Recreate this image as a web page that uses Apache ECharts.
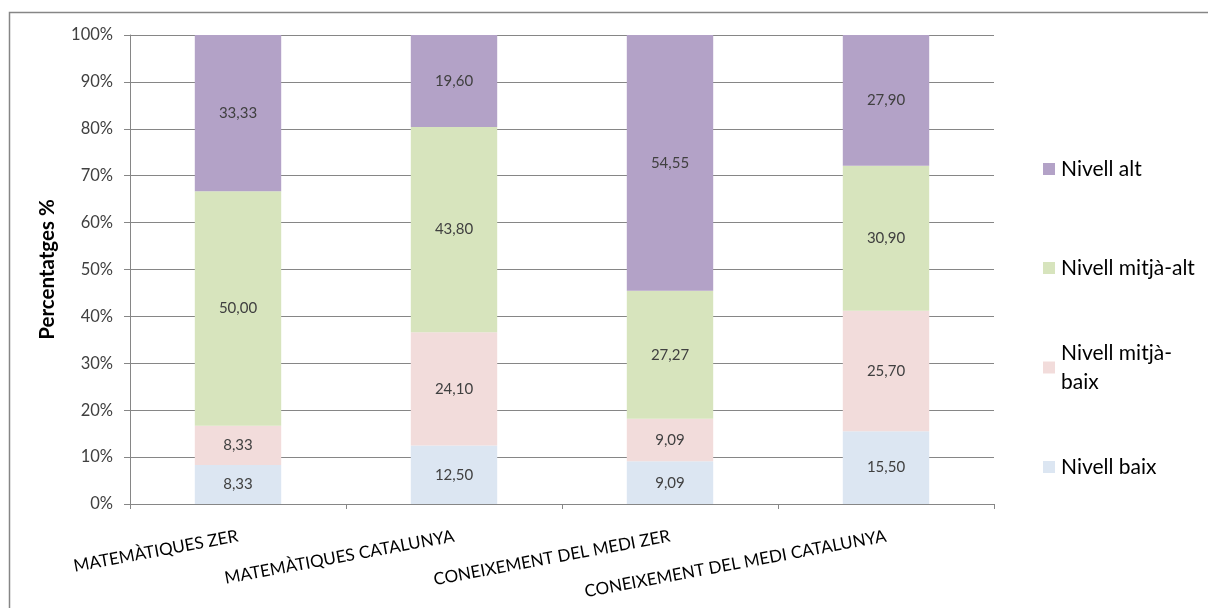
<!DOCTYPE html>
<html>
<head>
<meta charset="utf-8">
<script src="https://cdn.jsdelivr.net/npm/echarts@6/dist/echarts.min.js"></script>
<style>
html,body{margin:0;padding:0;background:#fff;}
#chart{width:1208px;height:608px;}
</style>
</head>
<body>
<div id="chart"></div>
<script>
const categories = ['MATEMÀTIQUES ZER', 'MATEMÀTIQUES CATALUNYA', 'CONEIXEMENT DEL MEDI ZER', 'CONEIXEMENT DEL MEDI CATALUNYA'];
const nivellBaix = [8.33, 12.50, 9.09, 15.50];
const nivellMitjaBaix = [8.33, 24.10, 9.09, 25.70];
const nivellMitjaAlt = [50.00, 43.80, 27.27, 30.90];
const nivellAlt = [33.33, 19.60, 54.55, 27.90];
const seriesNames = ['Nivell baix', 'Nivell mitjà-baix', 'Nivell mitjà-alt', 'Nivell alt'];
const yTicks = [0, 10, 20, 30, 40, 50, 60, 70, 80, 90, 100];

const FONT = 'Lato, "Open Sans", sans-serif';
const colors = ['#dce6f2', '#f2dcdb', '#d7e4bd', '#b3a2c7'];
const seriesData = [nivellBaix, nivellMitjaBaix, nivellMitjaAlt, nivellAlt];

const chart = echarts.init(document.getElementById('chart'), null, {renderer: 'canvas'});

function legendItem(name, top, multi) {
  return {
    data: [name],
    orient: 'vertical',
    left: 1043,
    top: top,
    padding: 0,
    itemWidth: 12,
    itemHeight: 12,
    icon: 'rect',
    formatter: n => n === 'Nivell mitjà-baix' ? 'Nivell mitjà-\nbaix' : n,
    textStyle: {
      fontFamily: FONT, fontSize: 21, color: '#000',
      lineHeight: multi ? 29 : 24,
      padding: multi ? [29, 0, 0, 1] : [0, 0, 0, 1]
    },
    selectedMode: false
  };
}

chart.setOption({
  animation: false,
  backgroundColor: '#fff',
  color: colors,
  graphic: [{
    type: 'rect',
    shape: {x: 9.5, y: 12.5, width: 1260, height: 700},
    style: {fill: 'none', stroke: '#868686', lineWidth: 1.5},
    silent: true
  }],
  legend: [
    legendItem('Nivell alt', 157, false),
    legendItem('Nivell mitjà-alt', 256, false),
    legendItem('Nivell mitjà-baix', 324, true),
    legendItem('Nivell baix', 455, false)
  ],
  grid: {left: 130, right: 214, top: 35, bottom: 104},
  xAxis: {
    type: 'category',
    data: categories,
    axisLine: {lineStyle: {color: '#868686', width: 1}},
    axisTick: {show: true, length: 5, lineStyle: {color: '#868686'}},
    axisLabel: {
      rotate: 10.5, margin: 32, interval: 0,
      fontFamily: FONT, fontSize: 17, color: '#000'
    }
  },
  yAxis: {
    type: 'value',
    min: 0, max: 100, interval: 10,
    name: 'Percentatges %',
    nameLocation: 'middle',
    nameGap: 72,
    nameTextStyle: {fontFamily: FONT, fontSize: 20.5, fontWeight: 'bold', color: '#000'},
    axisLine: {show: true, lineStyle: {color: '#868686', width: 1}},
    axisTick: {show: true, length: 6, lineStyle: {color: '#868686'}},
    axisLabel: {
      margin: 17,
      fontFamily: FONT, fontSize: 16.5, color: '#404040',
      formatter: v => yTicks.includes(v) ? v + '%' : ''
    },
    splitLine: {show: true, lineStyle: {color: '#868686', width: 1}}
  },
  series: seriesNames.map((name, i) => ({
    name: name,
    type: 'bar',
    stack: 'total',
    barWidth: '40%',
    data: seriesData[i],
    itemStyle: {color: colors[i]},
    label: {
      show: true,
      position: 'inside',
      fontFamily: FONT,
      fontSize: 15,
      color: '#404040',
      formatter: p => p.value.toFixed(2).replace('.', ',')
    }
  }))
});
</script>
</body>
</html>
